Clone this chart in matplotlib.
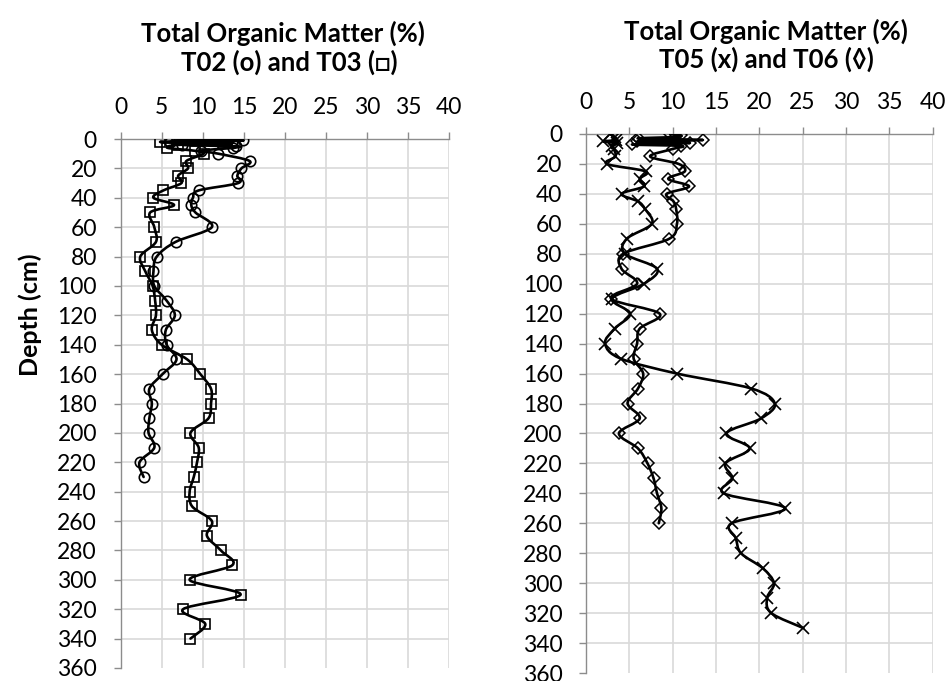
import matplotlib
matplotlib.use('Agg')
import matplotlib.pyplot as plt
from matplotlib.path import Path
from matplotlib.patches import PathPatch
import numpy as np

plt.rcParams['font.family'] = ['Lato', 'DejaVu Sans']

# total organic matter (%) against depth (cm), one pair of cores per panel
t02_depth = [0, 1, 2, 3, 4, 5, 6, 8, 10, 15, 20, 25, 30, 35, 40, 45, 50, 60, 70,
             80, 90, 100, 110, 120, 130, 140, 150, 160, 170, 180, 190, 200, 210,
             220, 230]
t02_tom = [10.3, 14.9, 6.0, 13.5, 7.5, 14.0, 13.7, 9.8, 11.9, 15.7, 14.7, 14.2,
           14.3, 9.5, 8.8, 8.6, 9.1, 11.1, 6.7, 4.4, 4.0, 4.1, 5.6, 6.6, 5.5,
           5.6, 6.8, 5.1, 3.5, 3.8, 3.5, 3.4, 4.1, 2.3, 2.8]

t03_depth = [0, 1, 2, 3, 4, 6, 8, 10, 15, 20, 25, 30, 35, 40, 45, 50, 60, 70, 80,
             90, 100, 110, 120, 130, 140, 150, 160, 170, 180, 190, 200, 210, 220,
             230, 240, 250, 260, 270, 280, 290, 300, 310, 320, 330, 340]
t03_tom = [6.9, 13.0, 4.8, 12.5, 7.0, 5.7, 9.0, 10.1, 8.0, 8.2, 7.0, 7.4, 5.2,
           4.0, 6.5, 3.6, 4.1, 4.3, 2.4, 3.0, 3.9, 4.2, 4.3, 3.8, 5.0, 8.1, 9.7,
           11.0, 11.0, 10.7, 8.5, 9.5, 9.3, 8.9, 8.4, 8.7, 11.1, 10.5, 12.2,
           13.6, 8.4, 14.6, 7.6, 10.3, 8.5]

t05_depth = [0, 2, 4, 5, 6, 8, 10, 15, 20, 25, 30, 35, 40, 45, 50, 60, 70, 80,
             90, 100, 110, 120, 130, 140, 150, 160, 170, 180, 190, 200, 210, 220,
             230, 240, 250, 260, 270, 280, 290, 300, 310, 320, 330]
t05_tom = [2.8, 3.3, 3.5, 2.0, 3.6, 3.0, 3.2, 3.4, 2.4, 6.9, 6.2, 6.7, 4.1, 6.0,
           6.8, 7.6, 4.7, 4.5, 8.2, 6.7, 3.0, 5.1, 3.3, 2.2, 4.0, 10.5, 19.1,
           21.8, 20.2, 16.2, 18.9, 16.1, 16.9, 15.9, 23.0, 16.8, 17.3, 17.9,
           20.4, 21.7, 20.9, 21.4, 25.1]

t06_depth = [0, 1, 2, 3, 4, 5, 6, 7, 8, 10, 15, 20, 25, 30, 35, 40, 45, 50, 60,
             70, 80, 90, 100, 110, 120, 130, 140, 150, 160, 170, 180, 190, 200,
             210, 220, 230, 240, 250, 260]
t06_tom = [9.7, 11.0, 10.3, 6.0, 13.5, 5.9, 12.0, 5.3, 11.0, 10.0, 7.4, 10.7,
           11.4, 9.5, 11.9, 9.3, 10.1, 10.4, 10.5, 9.6, 4.3, 4.1, 5.9, 2.9, 8.5,
           6.2, 5.9, 5.5, 6.6, 6.0, 4.8, 6.2, 3.8, 6.0, 7.1, 7.8, 8.2, 8.7, 8.4]

W, H = 947, 681
fig = plt.figure(figsize=(W / 100, H / 100), dpi=100)
fig.patch.set_facecolor('white')

AXIS_GREY = '#8c8c8c'
GRID_GREY = '#d9d9d9'


def smooth_line(ax, x, y):
    # smoothed line through every point (cubic bezier, catmull-rom tangents)
    pts = np.column_stack([x, y]).astype(float)
    n = len(pts)
    verts = [pts[0]]
    codes = [Path.MOVETO]
    for i in range(n - 1):
        p0 = pts[i - 1] if i > 0 else pts[i]
        p1 = pts[i]
        p2 = pts[i + 1]
        p3 = pts[i + 2] if i + 2 < n else pts[i + 1]
        verts += [p1 + (p2 - p0) / 6.0, p2 - (p3 - p1) / 6.0, p2]
        codes += [Path.CURVE4] * 3
    patch = PathPatch(Path(verts, codes), fill=False, edgecolor='black',
                      lw=1.9, joinstyle='round', capstyle='round', zorder=3)
    ax.add_patch(patch)


def setup_axes(rect_px):
    x0, ytop, x1, ybot = rect_px
    ax = fig.add_axes([x0 / W, 1 - ybot / H, (x1 - x0) / W, (ybot - ytop) / H])
    ax.set_xlim(0, 40)
    ax.set_ylim(360, 0)
    ax.set_xticks(np.arange(0, 41, 5))
    ax.set_yticks(np.arange(0, 361, 20))
    ax.xaxis.tick_top()
    for side in ['right', 'bottom']:
        ax.spines[side].set_visible(False)
    for side in ['top', 'left']:
        ax.spines[side].set_color(AXIS_GREY)
        ax.spines[side].set_linewidth(1.0)
    ax.tick_params(axis='both', direction='out', length=5, width=1.0,
                   color=AXIS_GREY, labelsize=16.5, labelcolor='black')
    ax.tick_params(axis='x', pad=10)
    ax.tick_params(axis='y', pad=12)
    ax.grid(True, color=GRID_GREY, lw=1.2, zorder=0)
    ax.set_axisbelow(True)
    ax.yaxis.get_gridlines()[-1].set_visible(False)
    return ax


marker_kw = dict(linestyle='none', mfc='none', mec='black', zorder=4)

# left panel: T02 and T03
ax1 = setup_axes((120.6, 139, 449.4, 668))
smooth_line(ax1, t02_tom, t02_depth)
smooth_line(ax1, t03_tom, t03_depth)
ax1.plot(t02_tom, t02_depth, marker='o', ms=7.5, mew=1.2, **marker_kw)
ax1.plot(t03_tom, t03_depth, marker='s', ms=7.5, mew=1.2, **marker_kw)

# right panel: T05 and T06
ax2 = setup_axes((586, 134, 932.5, 673))
smooth_line(ax2, t05_tom, t05_depth)
smooth_line(ax2, t06_tom, t06_depth)
ax2.plot(t05_tom, t05_depth, marker='x', ms=8, mew=1.2, **marker_kw)
ax2.plot(t06_tom, t06_depth, marker='D', ms=6, mew=1.1, **marker_kw)

title_kw = dict(ha='center', va='center', fontsize=18.5, fontweight='bold')
fig.text(283 / W, 1 - 33 / H, 'Total Organic Matter (%)', **title_kw)
fig.text(289 / W, 1 - 62 / H, 'T02 (o) and T03 (\u25a1)', **title_kw)
fig.text(766 / W, 1 - 31 / H, 'Total Organic Matter (%)', **title_kw)
fig.text(766 / W, 1 - 59 / H, 'T05 (x) and T06 (\u25ca)', **title_kw)

fig.text(30 / W, 1 - 315 / H, 'Depth (cm)', rotation=90, ha='center',
         va='center', fontsize=18, fontweight='bold')

fig.savefig('out.png', dpi=100, facecolor='white')
